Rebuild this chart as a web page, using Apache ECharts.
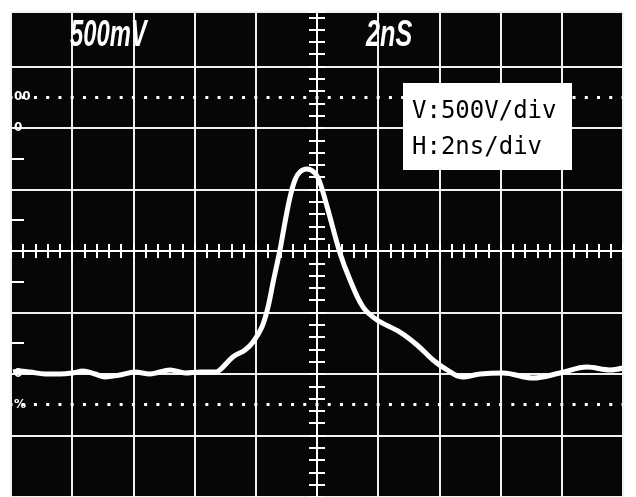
<!DOCTYPE html>
<html><head><meta charset="utf-8">
<script src="https://cdn.jsdelivr.net/npm/echarts@6/dist/echarts.min.js"></script>
<style>html,body{margin:0;padding:0;background:#fff;overflow:hidden}#c{width:636px;height:497px}</style>
</head><body><div id="c"></div>
<script>
// Trace: time in ns, amplitude in V (0 V = trace baseline)
const timeNs = [0.07,0.29,0.62,1.11,1.6,2.0,2.35,2.75,3.07,3.56,4.05,4.54,5.2,5.69,6.18,6.67,6.83,7.25,7.65,7.91,8.2,8.4,8.56,8.79,8.95,9.12,9.28,9.44,9.67,9.93,10.1,10.36,10.75,11.08,11.5,11.96,12.71,13.27,13.79,14.25,14.74,15.33,16.08,17.06,17.94,18.82,19.58,20.0];
const voltsV = [16,24,16,0,0,8,24,0,-24,-8,16,0,33,8,16,16,33,138,195,260,382,545,740,1008,1228,1439,1577,1642,1667,1634,1553,1333,984,764,545,439,341,236,114,33,-24,0,8,-33,8,57,33,49];
// Graticule
const xRange = [0, 20];          // ns, 2 ns/div
const yRange = [-1000, 2943];    // V, 500 V/div
const refLevels = [2250, -250];  // dotted 0% / 100% lines
const edgeTickValues = [250, 750, 1250, 1750];
const edgeLabelValues = [2250, 2000, 0, -250];
const edgeLabelTexts = ['00', '0', '0', '%'];
const annotationLines = ['V:500V/div', 'H:2ns/div'];
const screenTexts = ['500mV', '2nS'];

const W = '#ffffff';
const gridLine = {show: true, lineStyle: {color: '#f0f0f0', width: 2}};
const hideAll = {axisLine: {show: false, onZero: false}, axisTick: {show: false}, axisLabel: {show: false}, splitLine: {show: false}};

function centerX(inside) {
  return {type: 'value', min: xRange[0], max: xRange[1], interval: 0.4,
    axisLine: {show: true, onZero: true, onZeroAxisIndex: 1, lineStyle: {color: W, width: 2}},
    axisTick: {show: true, inside: inside, length: 7, lineStyle: {color: W, width: 2}},
    axisLabel: {show: false}, splitLine: {show: false}};
}
function centerY(inside) {
  return {type: 'value', min: yRange[0], max: yRange[1], interval: 100,
    axisLine: {show: true, onZero: true, onZeroAxisIndex: 3, lineStyle: {color: W, width: 2}},
    axisTick: {show: true, inside: inside, length: 8, lineStyle: {color: W, width: 2}},
    axisLabel: {show: false}, splitLine: {show: false}};
}

const chart = echarts.init(document.getElementById('c'), null, {renderer: 'canvas'});
chart.setOption({
  animation: false,
  backgroundColor: '#ffffff',
  grid: {left: 11, right: 13, top: 12, bottom: 0, show: true, backgroundColor: '#060606', borderWidth: 0},
  xAxis: [
    Object.assign({type: 'value', min: xRange[0], max: xRange[1], interval: 2}, hideAll, {splitLine: gridLine}),
    centerX(false),
    centerX(true),
    Object.assign({type: 'value', min: -10, max: 10, show: false}, hideAll)
  ],
  yAxis: [
    Object.assign({type: 'value', min: yRange[0], max: yRange[1], interval: 500}, hideAll, {splitLine: gridLine}),
    Object.assign({type: 'value', min: yRange[0] - 1000, max: yRange[1] - 1000, show: false}, hideAll),
    centerY(false),
    centerY(true),
    {type: 'value', min: yRange[0], max: yRange[1], position: 'left',
      axisLine: {show: false, onZero: false},
      axisTick: {show: true, inside: true, length: 13, customValues: edgeTickValues, lineStyle: {color: W, width: 2}},
      axisLabel: {show: true, inside: true, margin: 3, customValues: edgeLabelValues,
        color: W, fontSize: 12, fontWeight: 'bold', fontFamily: 'DejaVu Sans',
        formatter: v => edgeLabelTexts[edgeLabelValues.indexOf(v)] || ''},
      splitLine: {show: false}}
  ],
  series: [{
    type: 'line', xAxisIndex: 0, yAxisIndex: 0,
    data: timeNs.map((t, i) => [t, voltsV[i]]),
    smooth: 0.35, showSymbol: false, symbol: 'none',
    lineStyle: {color: W, width: 5}, z: 5,
    markLine: {silent: true, symbol: ['none', 'none'], label: {show: false},
      lineStyle: {color: W, width: 3, type: [3, 9.24], dashOffset: 1.5},
      data: refLevels.map(v => ({yAxis: v}))}
  }],
  graphic: [
    {type: 'text', x: 70, y: 18, scaleX: 0.66, z: 20,
      style: {text: screenTexts[0], fill: W, font: 'italic bold 36px "Liberation Sans"'}},
    {type: 'text', x: 366, y: 18, scaleX: 0.7, z: 20,
      style: {text: screenTexts[1], fill: W, font: 'italic bold 36px "Liberation Sans"'}},
    {type: 'rect', z: 20, shape: {x: 403, y: 83, width: 169, height: 87}, style: {fill: '#ffffff'}},
    {type: 'text', x: 412, y: 112, z: 21,
      style: {text: annotationLines[0], fill: '#000', font: '24px "DejaVu Sans Mono"', verticalAlign: 'middle'}},
    {type: 'text', x: 412, y: 148, z: 21,
      style: {text: annotationLines[1], fill: '#000', font: '24px "DejaVu Sans Mono"', verticalAlign: 'middle'}}
  ]
});
</script></body></html>
